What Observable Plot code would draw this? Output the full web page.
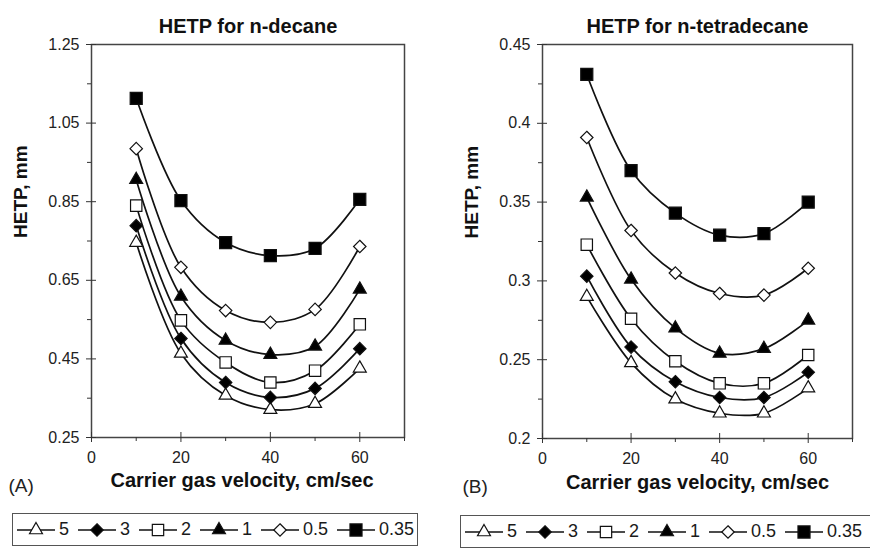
<!DOCTYPE html>
<html>
<head>
<meta charset="utf-8">
<script src="https://cdn.jsdelivr.net/npm/d3@7"></script>
<script src="https://cdn.jsdelivr.net/npm/@observablehq/plot@0.6"></script>
<style>
  html, body { margin: 0; padding: 0; background: #fff; overflow: hidden; }
  body { width: 870px; height: 549px; font-family: 'Liberation Sans', Arial, sans-serif; color: #1a1a1a; }
  #wrap { display: flex; flex-direction: row; width: 870px; height: 549px; }
  .panel { width: 435px; height: 549px; position: relative; }
  .legend { box-sizing: border-box; border: 1.5px solid #555; height: 33px; display: flex; align-items: center; font-size: 18px; white-space: nowrap; padding-left: 4px; }
  .item { display: flex; align-items: center; margin-right: 9px; }
  .item svg { display: block; margin-right: 4px; }
</style>
</head>
<body>
<div id="wrap">
  <div class="panel" id="panelA"></div>
  <div class="panel" id="panelB"></div>
</div>
<script>
// ---------- data ----------
const velocity = [10, 20, 30, 40, 50, 60];
const seriesNames = ["5", "3", "2", "1", "0.5", "0.35"];

// HETP for n-decane (mm)
const decane_5    = [0.746, 0.464, 0.357, 0.321, 0.336, 0.426];
const decane_3    = [0.789, 0.502, 0.390, 0.352, 0.375, 0.476];
const decane_2    = [0.840, 0.548, 0.441, 0.390, 0.420, 0.538];
const decane_1    = [0.906, 0.609, 0.497, 0.461, 0.482, 0.627];
const decane_05   = [0.985, 0.683, 0.573, 0.543, 0.576, 0.736];
const decane_035  = [1.113, 0.853, 0.746, 0.713, 0.731, 0.856];

// HETP for n-tetradecane (mm)
const tetra_5   = [0.290, 0.248, 0.225, 0.216, 0.216, 0.232];
const tetra_3   = [0.303, 0.258, 0.236, 0.226, 0.226, 0.242];
const tetra_2   = [0.323, 0.276, 0.249, 0.235, 0.235, 0.253];
const tetra_1   = [0.353, 0.301, 0.270, 0.254, 0.257, 0.275];
const tetra_05  = [0.391, 0.332, 0.305, 0.292, 0.291, 0.308];
const tetra_035 = [0.431, 0.370, 0.343, 0.329, 0.330, 0.350];

// tick values
const xMajor = [0, 20, 40, 60];
const xMinor = [10, 30, 50, 70];
const yMajorA = [0.25, 0.45, 0.65, 0.85, 1.05, 1.25];
const yMinorA = [0.35, 0.55, 0.75, 0.95, 1.15];
const yMajorB = [0.2, 0.25, 0.3, 0.35, 0.4, 0.45];
const yMinorB = [0.225, 0.275, 0.325, 0.375, 0.425];

// ---------- style ----------
const symbols = ["triangle", "diamond2", "square", "triangle", "diamond2", "square"];
const fills   = ["white", "black", "white", "black", "white", "black"];
const radii   = [4.8, 5.6, 6.4, 4.8, 5.6, 6.8];
const font = "'Liberation Sans', Arial, sans-serif";

function rowsFrom(arrays) {
  const rows = [];
  arrays.forEach((arr, i) => arr.forEach((h, j) => rows.push({series: seriesNames[i], i, v: velocity[j], h})));
  return rows;
}

function makePanel(cfg) {
  const rows = rowsFrom(cfg.arrays);
  const fw = 435 - cfg.ml - cfg.mr;   // frame width in px
  const fh = 500 - cfg.mt - cfg.mb;   // frame height in px
  const axisColor = "#333";
  const marks = [
    Plot.frame({stroke: "#444", strokeWidth: 1.5}),
    // y axis: labelled major ticks (outside), inner half of major ticks, minor ticks (outside)
    Plot.axisY(cfg.yMajor, {tickSize: 5, tickPadding: 7, tickFormat: cfg.fmt, label: null, stroke: axisColor, fill: "#222", fontSize: 16}),
    Plot.tickY(cfg.yMajor, {y: d => d, insetLeft: 0, insetRight: fw - 5, stroke: axisColor}),
    Plot.tickY(cfg.yMinor, {y: d => d, insetLeft: -4, insetRight: fw, stroke: axisColor}),
    // x axis
    Plot.axisX(xMajor, {tickSize: 5, tickPadding: 9, label: null, stroke: axisColor, fill: "#222", fontSize: 16}),
    Plot.tickX(xMajor, {x: d => d, insetTop: fh - 5, insetBottom: 0, stroke: axisColor}),
    Plot.tickX(xMinor, {x: d => d, insetTop: fh, insetBottom: -4, stroke: axisColor}),
    // lines
    Plot.line(rows, {x: "v", y: "h", z: "series", curve: "catmull-rom", stroke: "#111", strokeWidth: 1.7})
  ];
  seriesNames.forEach((s, i) => {
    marks.push(Plot.dot(rows.filter(d => d.i === i), {
      x: "v", y: "h", symbol: symbols[i], r: radii[i], fill: fills[i], stroke: "#111", strokeWidth: 1.2
    }));
  });
  marks.push(
    Plot.text([cfg.title], {frameAnchor: "top", lineAnchor: "middle", dy: -18, fontSize: 20, fontWeight: "bold", fill: "#111"}),
    Plot.text(["Carrier gas velocity, cm/sec"], {frameAnchor: "bottom", lineAnchor: "middle", dx: cfg.xlabDx, dy: cfg.xlabDy, fontSize: 20, fontWeight: "bold", fill: "#111"}),
    Plot.text(["HETP, mm"], {frameAnchor: "left", lineAnchor: "middle", dx: -71, dy: -3, rotate: -90, fontSize: 19, fontWeight: "bold", fill: "#111"}),
    Plot.text([cfg.tag], {frameAnchor: "bottom-left", lineAnchor: "middle", dx: cfg.tagDx, dy: 48, textAnchor: "start", fontSize: 19, fill: "#222"})
  );
  return Plot.plot({
    width: 435,
    height: 500,
    marginLeft: cfg.ml, marginRight: cfg.mr, marginTop: cfg.mt, marginBottom: cfg.mb,
    x: {domain: [0, 70]},
    y: {domain: cfg.yDomain},
    style: {fontFamily: font, fontSize: "16px", color: "#222", background: "white", overflow: "visible"},
    marks
  });
}

function makeLegend(ml, mt, width) {
  const box = document.createElement("div");
  box.className = "legend";
  box.style.marginLeft = ml + "px";
  box.style.marginTop = mt + "px";
  box.style.width = width + "px";
  const symMap = {triangle: d3.symbolTriangle, diamond2: d3.symbolDiamond2, square: d3.symbolSquare};
  seriesNames.forEach((s, i) => {
    const item = document.createElement("div");
    item.className = "item";
    const svg = d3.create("svg").attr("width", 38).attr("height", 18);
    svg.append("line").attr("x1", 0).attr("x2", 38).attr("y1", 9).attr("y2", 9).attr("stroke", "#111").attr("stroke-width", 1.7);
    svg.append("path")
      .attr("d", d3.symbol(symMap[symbols[i]], radii[i] * radii[i] * Math.PI)())
      .attr("transform", "translate(19,9)")
      .attr("fill", fills[i]).attr("stroke", "#111").attr("stroke-width", 1.2);
    item.appendChild(svg.node());
    const lab = document.createElement("span");
    lab.textContent = s;
    item.appendChild(lab);
    box.appendChild(item);
  });
  return box;
}

const A = document.getElementById("panelA");
A.appendChild(makePanel({
  arrays: [decane_5, decane_3, decane_2, decane_1, decane_05, decane_035],
  yDomain: [0.25, 1.25], yMajor: yMajorA, yMinor: yMinorA,
  fmt: d3.format(".2f"), title: "HETP for n-decane", tag: "(A)",
  ml: 91, mr: 31, mt: 44, mb: 63, xlabDx: -6, xlabDy: 43, tagDx: -83
}));
A.appendChild(makeLegend(12, 13, 406));

const B = document.getElementById("panelB");
B.appendChild(makePanel({
  arrays: [tetra_5, tetra_3, tetra_2, tetra_1, tetra_05, tetra_035],
  yDomain: [0.2, 0.45], yMajor: yMajorB, yMinor: yMinorB,
  fmt: d3.format("~g"), title: "HETP for n-tetradecane", tag: "(B)",
  ml: 107, mr: 18, mt: 44, mb: 62, xlabDx: 0, xlabDy: 44, tagDx: -80
}));
B.appendChild(makeLegend(25, 15, 420));
</script>
</body>
</html>
